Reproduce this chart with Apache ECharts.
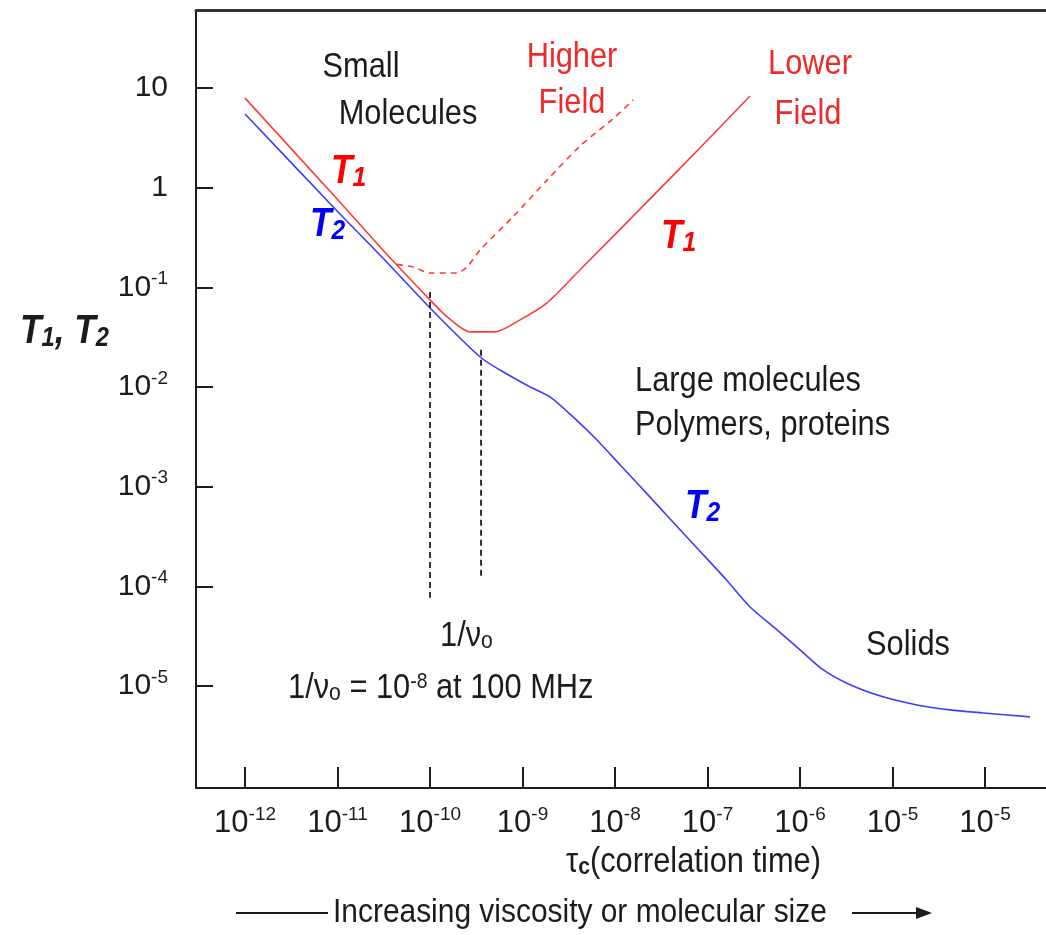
<!DOCTYPE html>
<html>
<head>
<meta charset="utf-8">
<script src="https://cdn.jsdelivr.net/npm/echarts@6/dist/echarts.min.js"></script>
<style>
  html, body { margin: 0; padding: 0; background: #fff; }
  #chart { width: 1046px; height: 935px; }
</style>
</head>
<body>
<div id="chart"></div>
<script>
const FONT = '"Liberation Sans", Arial, sans-serif';
const NARROW = 0.88; // the figure's lettering is a narrowed Arial

// ticks and what is printed under them (the figure prints 10^-5 twice)
const xTickValues = [1e-12, 1e-11, 1e-10, 1e-9, 1e-8, 1e-7, 1e-6, 1e-5, 1e-4];
const xTickExps = ['-12', '-11', '-10', '-9', '-8', '-7', '-6', '-5', '-5'];
const yTickValues = [10, 1, 1e-1, 1e-2, 1e-3, 1e-4, 1e-5];
const yTickTexts = ['10', '1', '10{sup|-1}', '10{sup|-2}', '10{sup|-3}', '10{sup|-4}', '10{sup|-5}'];

// [tau_c, T]
const t1LowerField = [
  [1e-12, 7.9], [1e-11, 0.76], [3.09e-11, 0.237], [1e-10, 0.0748], [1.53e-10, 0.0505],
  [2.70e-10, 0.0357], [5.05e-10, 0.0357], [9.4e-10, 0.0471], [1.84e-9, 0.0698],
  [4.19e-9, 0.150], [2.39e-8, 0.771], [8.3e-8, 2.51], [2.88e-7, 8.3]
];
const t1HigherField = [
  [4.4e-11, 0.17], [6.55e-11, 0.160], [1e-10, 0.139], [1.96e-10, 0.139], [2.51e-10, 0.160],
  [3.48e-10, 0.237], [7.89e-10, 0.51], [1.84e-9, 1.19], [4.19e-9, 2.62],
  [9.5e-9, 4.9], [1.57e-8, 7.59]
];
const t2Curve = [
  [1e-12, 5.48], [1e-11, 0.577], [3.09e-11, 0.197], [1e-10, 0.0621], [3.48e-10, 0.0200],
  [5.71e-10, 0.0148], [1.21e-9, 0.0100], [1.98e-9, 0.00796], [3.52e-9, 0.00501],
  [6.38e-9, 0.00294], [1.13e-8, 0.00166], [2.22e-8, 8.47e-4], [3.94e-8, 4.75e-4],
  [7.69e-8, 2.43e-4], [1.63e-7, 1.14e-4], [2.88e-7, 6.22e-5], [5.64e-7, 3.66e-5],
  [1e-6, 2.31e-5], [1.77e-6, 1.46e-5], [3.48e-6, 1.03e-5], [7.89e-6, 7.80e-6],
  [1.84e-5, 6.47e-6], [4.19e-5, 5.77e-6], [9.5e-5, 5.38e-6], [3.06e-4, 4.91e-6]
];
// the two 1/nu0 markers
const markerA = [[1e-10, 0.0900], [1e-10, 7.7e-5]];
const markerB = [[3.56e-10, 0.0236], [3.56e-10, 1.22e-4]];

const xMin = 2.95e-13, xMax = 4.56e-4;
const yMin = 9.5e-7, yMax = 60.5;

const RED = '#ff3b3b', BLUE = '#3d3dff', INK = '#1c1c1c';

function expIndex(list, v) {
  const e = Math.round(Math.log10(v));
  return list.findIndex(t => Math.round(Math.log10(t)) === e);
}

function txt(x, y, text, opt) {
  opt = opt || {};
  return {
    type: 'text', x: x, y: y, scaleX: NARROW, silent: true,
    style: {
      text: text,
      fontFamily: FONT,
      fontSize: opt.size || 35,
      fontWeight: opt.weight || 'normal',
      fontStyle: opt.style || 'normal',
      fill: opt.color || INK,
      align: opt.align || 'center',
      verticalAlign: 'middle',
      rich: opt.rich
    }
  };
}

const subRich = (color, size) => ({
  s: { fontFamily: FONT, fontSize: size, fontWeight: 'bold', fontStyle: 'italic', fill: color, color: color, lineHeight: 20, verticalAlign: 'bottom' }
});
const tLabel = (x, y, sub, color) => txt(x, y, 'T{s|' + sub + '}', {
  size: 40, weight: 'bold', style: 'italic', color: color, align: 'left', rich: subRich(color, 28)
});
const nuRich = { o: { fontFamily: FONT, fontSize: 24, fill: INK, lineHeight: 18, verticalAlign: 'bottom' },
                 e: { fontFamily: FONT, fontSize: 22, fill: INK, lineHeight: 18, verticalAlign: 'top' } };
const supRich = { sup: { fontFamily: FONT, fontSize: 19, color: INK, lineHeight: 22, verticalAlign: 'top' } };

const chart = echarts.init(document.getElementById('chart'));
chart.setOption({
  animation: false,
  backgroundColor: '#fff',
  grid: { left: 196, top: 10, right: 0, bottom: 147 },
  xAxis: [{
    type: 'log', min: xMin, max: xMax,
    axisLine: { lineStyle: { color: INK, width: 2 } },
    axisTick: { inside: true, length: 21, lineStyle: { color: INK, width: 2 }, customValues: xTickValues },
    splitLine: { show: false },
    minorTick: { show: false },
    axisLabel: {
      customValues: xTickValues,
      margin: 17,
      color: INK, fontFamily: FONT, fontSize: 31, lineHeight: 36,
      formatter: v => '10{sup|' + xTickExps[expIndex(xTickValues, v)] + '}',
      rich: supRich
    }
  }, {
    type: 'log', min: xMin, max: xMax, position: 'top',
    axisLine: { lineStyle: { color: '#333', width: 3 } },
    axisTick: { show: false }, axisLabel: { show: false }, splitLine: { show: false }
  }],
  yAxis: {
    type: 'log', min: yMin, max: yMax,
    axisLine: { lineStyle: { color: INK, width: 2 } },
    axisTick: { inside: true, length: 17, lineStyle: { color: INK, width: 2 }, customValues: yTickValues },
    splitLine: { show: false },
    minorTick: { show: false },
    axisLabel: {
      customValues: yTickValues,
      margin: 28,
      color: INK, fontFamily: FONT, fontSize: 30, lineHeight: 36,
      formatter: v => yTickTexts[expIndex(yTickValues, v)],
      rich: supRich
    }
  },
  series: [
    { type: 'line', data: t1LowerField, smooth: 0.25, showSymbol: false, lineStyle: { color: RED, width: 1.6 } },
    { type: 'line', data: t1HigherField, smooth: 0.25, showSymbol: false, lineStyle: { color: RED, width: 1.6, type: [6, 5] } },
    { type: 'line', data: t2Curve, smooth: 0.25, showSymbol: false, lineStyle: { color: BLUE, width: 1.6 } },
    { type: 'line', data: markerA, showSymbol: false, lineStyle: { color: INK, width: 1.8, type: [6, 4] } },
    { type: 'line', data: markerB, showSymbol: false, lineStyle: { color: INK, width: 1.8, type: [6, 4] } }
  ],
  graphic: [
    txt(361, 67, 'Small'),
    txt(408, 114, 'Molecules'),
    txt(572, 57, 'Higher', { color: '#ee2a2a' }),
    txt(572, 103, 'Field', { color: '#ee2a2a' }),
    txt(810, 64, 'Lower', { color: '#ee2a2a' }),
    txt(808, 114, 'Field', { color: '#ee2a2a' }),
    tLabel(331, 172, '1', '#ff0000'),
    tLabel(310, 225, '2', '#0000ff'),
    tLabel(661, 237, '1', '#ff0000'),
    tLabel(685, 507, '2', '#0000ff'),
    txt(635, 381, 'Large molecules', { align: 'left' }),
    txt(635, 425, 'Polymers, proteins', { align: 'left' }),
    txt(908, 645, 'Solids'),
    txt(440, 636, '1/ν{o|o}', { align: 'left', rich: nuRich }),
    txt(288, 688, '1/ν{o|o} = 10{e|-8} at 100 MHz', { align: 'left', rich: nuRich }),
    txt(566, 862, 'τ{c|c}(correlation time)', { align: 'left', rich: {
      c: { fontFamily: FONT, fontSize: 24, fontWeight: 'bold', fill: INK, lineHeight: 18, verticalAlign: 'bottom' } } }),
    txt(20, 332, 'T{s|1}, T{s|2}', { size: 40, weight: 'bold', style: 'italic', align: 'left', rich: subRich(INK, 27) }),
    txt(333, 913, 'Increasing viscosity or molecular size', { align: 'left', size: 34 }),
    { type: 'line', silent: true, shape: { x1: 236, y1: 913, x2: 328, y2: 913 }, style: { stroke: INK, lineWidth: 2 } },
    { type: 'line', silent: true, shape: { x1: 852, y1: 913, x2: 918, y2: 913 }, style: { stroke: INK, lineWidth: 2 } },
    { type: 'polygon', silent: true, shape: { points: [[916, 907], [932, 913], [916, 919]] }, style: { fill: INK } }
  ]
});
</script>
</body>
</html>
